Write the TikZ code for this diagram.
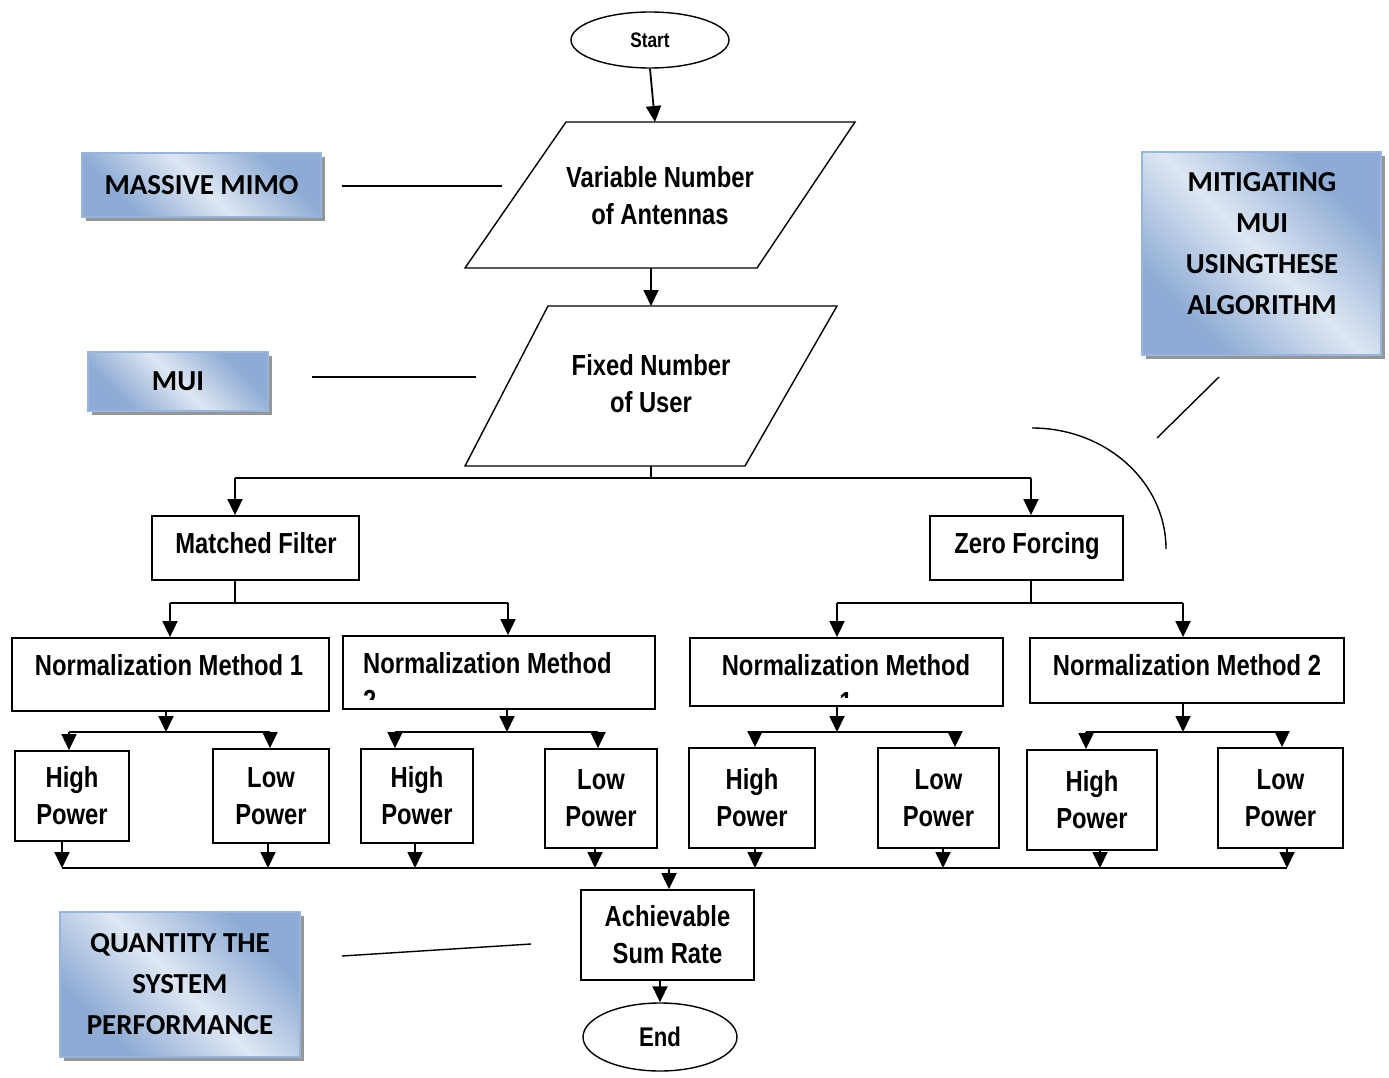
\documentclass[tikz,border=0pt]{standalone}
\usepackage{fontspec}
\newfontfamily\flowfont{Liberation Sans}[FakeStretch=0.82]
\newfontfamily\sidefont{Carlito}
\usetikzlibrary{arrows.meta,shapes.geometric,shadows,calc}

\definecolor{sbdark}{RGB}{141,171,212}
\definecolor{sblight}{RGB}{222,231,243}
\definecolor{sbborder}{RGB}{150,182,222}
\definecolor{sbshadow}{RGB}{150,150,150}

% diagonal blue band used by the annotation boxes
\pgfdeclarehorizontalshading{sideblue}{100bp}{color(0bp)=(sbdark); color(28bp)=(sbdark); color(50bp)=(sblight); color(72bp)=(sbdark); color(100bp)=(sbdark)}

\begin{document}
\begin{tikzpicture}[x=1pt,y=-1pt,
  box/.style={draw, rectangle, line width=1.8pt, inner sep=0pt, align=center,
    font=\flowfont\bfseries\fontsize{29}{37}\selectfont},
  txt/.style={inner sep=0pt, align=center, anchor=base, font=\flowfont\bfseries\fontsize{29}{37}\selectfont},
  term/.style={draw, ellipse, line width=1.4pt, inner sep=0pt},
  parashape/.style={draw, line width=1.4pt, line join=miter},
  wire/.style={line width=1.8pt},
  arr/.style={line width=1.8pt, -{Triangle[length=16pt,width=15pt]}},
  note/.style={line width=1.4pt},
  sidebox/.style={draw=sbborder, line width=1.2pt, shading=sideblue, shading angle=45,
    drop shadow={fill=sbshadow, opacity=1, shadow xshift=4pt, shadow yshift=-4pt},
    inner sep=0pt, align=center, font=\sidefont\bfseries\fontsize{29}{41}\selectfont},
  sidetxt/.style={inner sep=0pt, align=center, font=\sidefont\bfseries\fontsize{29}{41}\selectfont}
]
\useasboundingbox (0,0) rectangle (1389,1078);

% ---------- main flow ----------
\node[term, minimum width=158pt, minimum height=56pt,
  font=\flowfont\bfseries\fontsize{21}{24}\selectfont] (start) at (650,40) {Start};

% input parallelograms
\draw[parashape] (566,122) -- (855,122) -- (757,268) -- (465,268) -- cycle;
\node[txt, anchor=center] (p1) at (660,196) {Variable Number\\of Antennas};
\coordinate (p1n) at (655,122);
\coordinate (p1s) at (651,268);

\draw[parashape] (548,306) -- (837,306) -- (745,466) -- (465,466) -- cycle;
\node[txt, anchor=center] (p2) at (651,384) {Fixed Number\\of User};
\coordinate (p2n) at (651,306);
\coordinate (p2s) at (651,466);

\draw[arr] (start.south) -- (p1n);
\draw[arr] (p1s) -- (p2n);

% split into the two precoders
\node[box, minimum width=207pt, minimum height=64pt] (mf) at (255.5,548) {};
\node[txt] (mft) at (256,553) {Matched Filter};
\node[box, minimum width=193pt, minimum height=64pt] (zf) at (1026.5,548) {};
\node[txt] (zft) at (1027,553) {Zero Forcing};

\coordinate (b0) at (651,478);
\coordinate (bl) at (235,478);
\coordinate (br) at (1031,478);
\draw[wire] (p2s) -- (b0);
\draw[wire] (bl) -- (br);
\draw[arr] (bl) -- (bl |- mf.north);
\draw[arr] (br) -- (br |- zf.north);

% normalization boxes
\node[box, minimum width=317pt, minimum height=73pt] (n1) at (170.5,674.5) {};
\node[txt] (n1t) at (169,675) {Normalization Method 1};
\node[box, minimum width=312pt, minimum height=73pt] (n2) at (499,672.5) {};
\node[box, minimum width=313pt, minimum height=68pt] (n3) at (846.5,672) {};
\node[box, minimum width=314pt, minimum height=65pt] (n4) at (1187,670.5) {};
\node[txt] (n4t) at (1187,675) {Normalization Method 2};

% two labels that overflow their boxes: the second line is cut off
\begin{scope}
  \clip ($(n2.north west)+(2,2)$) rectangle ($(n2.south east)+(-2,-10)$);
  \node[txt, align=left, anchor=base west] (n2t) at (363,710) {Normalization Method\\2};
\end{scope}
\begin{scope}
  \clip ($(n3.north west)+(2,2)$) rectangle ($(n3.south east)+(-2,-9)$);
  \node[txt] (n3t) at (846,712) {Normalization Method\\1};
\end{scope}

\coordinate (m0) at (235,603);
\coordinate (ml) at (170,603);
\coordinate (mr) at (508,603);
\draw[wire] (m0 |- mf.south) -- (m0);
\draw[wire] (ml) -- (mr);
\draw[arr] (ml) -- (ml |- n1.north);
\draw[arr] (mr) -- (mr |- n2.north);

\coordinate (z0) at (1031,603);
\coordinate (zl) at (837,603);
\coordinate (zr) at (1183,603);
\draw[wire] (z0 |- zf.south) -- (z0);
\draw[wire] (zl) -- (zr);
\draw[arr] (zl) -- (zl |- n3.north);
\draw[arr] (zr) -- (zr |- n4.north);

% power boxes
\node[box, minimum width=114pt, minimum height=90pt]  (h1) at (72,796)    {High\\Power};
\node[box, minimum width=116pt, minimum height=94pt]  (l1) at (271,796)   {Low\\Power};
\node[box, minimum width=112pt, minimum height=94pt]  (h2) at (417,796)   {High\\Power};
\node[box, minimum width=112pt, minimum height=99pt]  (l2) at (601,798.5) {Low\\Power};
\node[box, minimum width=126pt, minimum height=100pt] (h3) at (752,798)   {High\\Power};
\node[box, minimum width=121pt, minimum height=100pt] (l3) at (938.5,798) {Low\\Power};
\node[box, minimum width=130pt, minimum height=100pt] (h4) at (1092,800)  {High\\Power};
\node[box, minimum width=125pt, minimum height=100pt] (l4) at (1280.5,798){Low\\Power};

% branches from each normalization box
\coordinate (g1) at (166,732);  \coordinate (g1l) at (69,732);   \coordinate (g1r) at (270,732);
\coordinate (g2) at (507,732);  \coordinate (g2l) at (395,732);  \coordinate (g2r) at (598,732);
\coordinate (g3) at (837,732);  \coordinate (g3l) at (755,732);  \coordinate (g3r) at (955,732);
\coordinate (g4) at (1183,732); \coordinate (g4l) at (1086,732); \coordinate (g4r) at (1282,732);

\draw[arr] (g1 |- n1.south) -- (g1);
\draw[arr] (g2 |- n2.south) -- (g2);
\draw[arr] (g3 |- n3.south) -- (g3);
\draw[arr] (g4 |- n4.south) -- (g4);
\draw[wire] (g1l) -- (g1r);
\draw[wire] (g2l) -- (g2r);
\draw[wire] (g3l) -- (g3r);
\draw[wire] (g4l) -- (g4r);
\draw[arr] (g1l) -- (g1l |- h1.north);
\draw[arr] (g1r) -- (g1r |- l1.north);
\draw[arr] (g2l) -- (g2l |- h2.north);
\draw[arr] (g2r) -- (g2r |- l2.north);
\draw[arr] (g3l) -- (g3l |- h3.north);
\draw[arr] (g3r) -- (g3r |- l3.north);
\draw[arr] (g4l) -- (g4l |- h4.north);
\draw[arr] (g4r) -- (g4r |- l4.north);

% collector into the sum-rate block
\coordinate (c1) at (62,868);
\coordinate (c2) at (268,868);
\coordinate (c3) at (415,868);
\coordinate (c4) at (595,868);
\coordinate (c5) at (755,868);
\coordinate (c6) at (943,868);
\coordinate (c7) at (1100,868);
\coordinate (c8) at (1287,868);
\coordinate (c0) at (669,868);
\draw[arr] (c1 |- h1.south) -- (c1);
\draw[arr] (c2 |- l1.south) -- (c2);
\draw[arr] (c3 |- h2.south) -- (c3);
\draw[arr] (c4 |- l2.south) -- (c4);
\draw[arr] (c5 |- h3.south) -- (c5);
\draw[arr] (c6 |- l3.south) -- (c6);
\draw[arr] (c7 |- h4.south) -- (c7);
\draw[arr] (c8 |- l4.south) -- (c8);
\draw[wire] (c1) -- (c8);

\node[box, minimum width=173pt, minimum height=90pt] (ach) at (667.5,935) {Achievable\\Sum Rate};
\draw[arr] (c0) -- (c0 |- ach.north);

\node[term, minimum width=154pt, minimum height=68pt,
  font=\flowfont\bfseries\fontsize{27}{30}\selectfont] (endn) at (660,1037) {End};
\draw[arr] (endn.north |- ach.south) -- (endn.north);

% ---------- annotations ----------
\node[sidebox, minimum width=239pt, minimum height=64pt] (mm) at (201.5,185) {MASSIVE MIMO};
\node[sidebox, minimum width=180pt, minimum height=59pt] (mui) at (178,381.5) {MUI};
\node[sidebox, minimum width=239pt, minimum height=203pt] (mit) at (1261.5,253.5) {};
\node[sidetxt] (mitt) at (1262,243.5) {MITIGATING\\MUI\\USINGTHESE\\ALGORITHM};
\node[sidebox, minimum width=240pt, minimum height=145pt] (qty) at (180,984.5)
  {QUANTITY THE\\SYSTEM\\PERFORMANCE};

\coordinate (mma) at (342,186);  \coordinate (mmb) at (502,186);
\coordinate (mua) at (312,377);  \coordinate (mub) at (476,377);
\coordinate (mia) at (1219,377); \coordinate (mib) at (1157,438);
\coordinate (qa)  at (342,956);  \coordinate (qb)  at (531,944);
\coordinate (arcs) at (1032,428);

\draw[note] (mma) -- (mmb);
\draw[note] (mua) -- (mub);
\draw[note] (mia) -- (mib);
\draw[note] (qa) -- (qb);
\draw[note] (arcs) arc[start angle=-90, end angle=0, x radius=134, y radius=121];

\end{tikzpicture}
\end{document}
